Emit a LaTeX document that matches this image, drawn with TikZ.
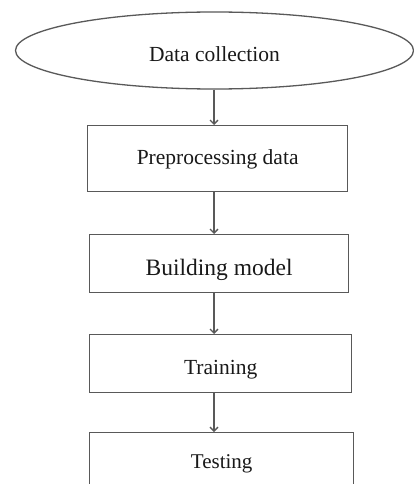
\documentclass[tikz,border=0pt]{standalone}
\usepackage{fontspec}
\setmainfont{Liberation Serif}
\usetikzlibrary{shapes.geometric,arrows.meta}
\begin{document}
\begin{tikzpicture}[x=1pt,y=-1pt,
  line/.style={draw=black!65,line width=1.3pt},
  stepbox/.style={line,rectangle,inner sep=0pt,anchor=north west,text=black!90},
  conn/.style={line,-{Straight Barb[length=4pt,width=8pt]}}]
\useasboundingbox[fill=white] (0,0) rectangle (414,484);
\node[line,ellipse,minimum width=398pt,minimum height=77pt,inner sep=0pt,text=black!90,font=\fontsize{21.5}{24}\selectfont,text height=22.2pt,text depth=0pt] (dc) at (214.5,50.5) {Data collection};
\node[stepbox,minimum width=260pt,minimum height=66pt,font=\fontsize{21.5}{24}\selectfont,text height=15pt,text depth=2.8pt] (pp) at (87,125) {Preprocessing data};
\node[stepbox,minimum width=259pt,minimum height=58pt,font=\fontsize{23.5}{26}\selectfont,text height=23.5pt,text depth=0pt] (bm) at (89,234) {Building model};
\node[stepbox,minimum width=262pt,minimum height=58pt,font=\fontsize{21.5}{24}\selectfont,text height=22.2pt,text depth=0pt] (tr) at (89,334) {Training};
\node[stepbox,minimum width=264pt,minimum height=80pt,font=\fontsize{21}{24}\selectfont,text height=15pt,text depth=23.2pt] (te) at (89,432) {Testing};
\draw[conn] (dc.south -| 214,0) -- (214,0 |- pp.north);
\draw[conn] (pp.south -| 214,0) -- (214,0 |- bm.north);
\draw[conn] (bm.south -| 214,0) -- (214,0 |- tr.north);
\draw[conn] (tr.south -| 214,0) -- (214,0 |- te.north);
\end{tikzpicture}
\end{document}
